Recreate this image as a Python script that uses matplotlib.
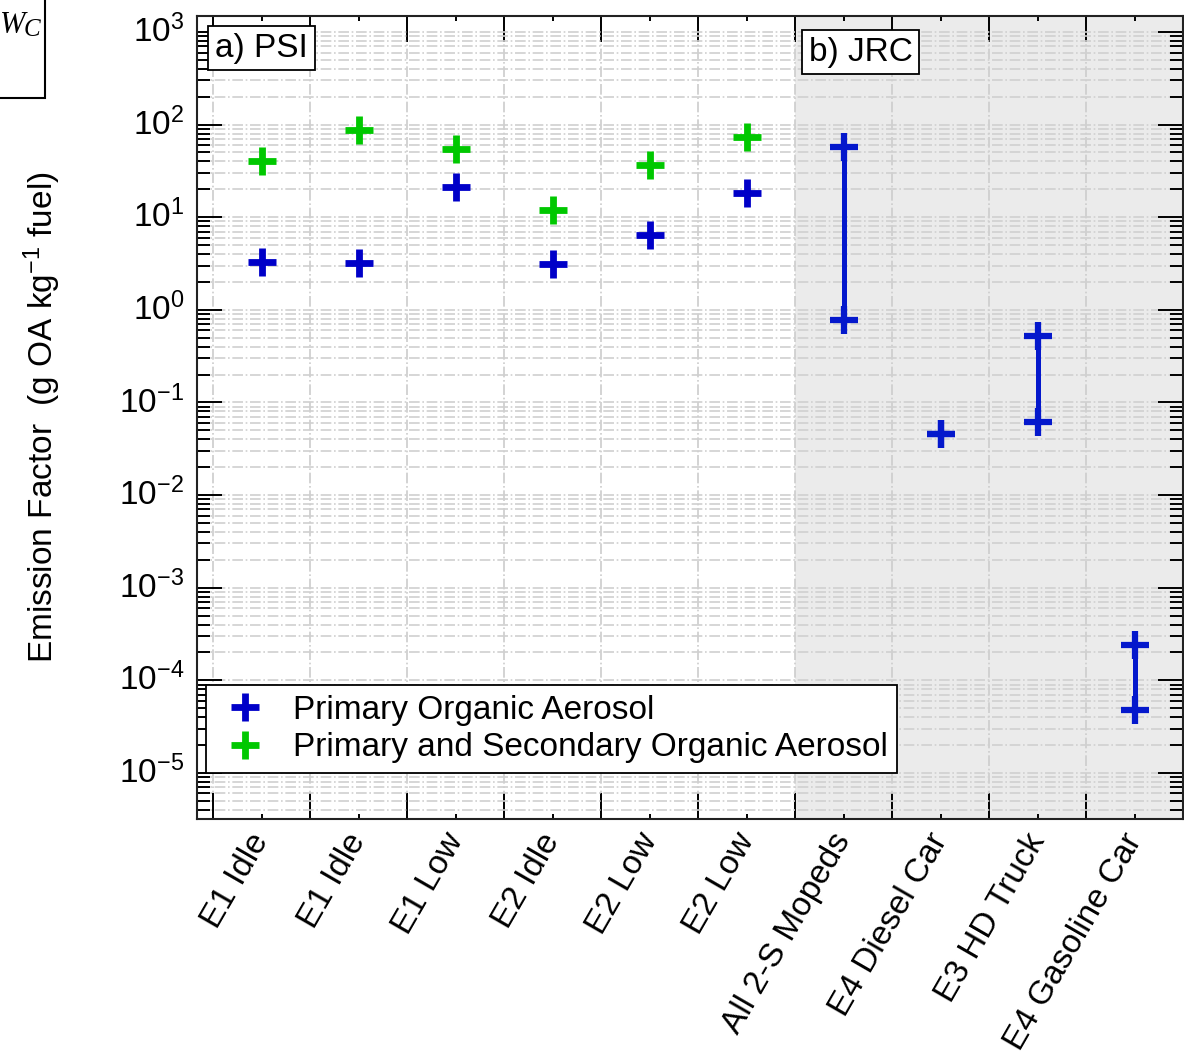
import numpy as np
import matplotlib
matplotlib.use("Agg")
import matplotlib.pyplot as plt
from matplotlib.ticker import LogLocator, FixedLocator, NullFormatter
from matplotlib.patches import Rectangle

plt.rcParams['font.family'] = ['Liberation Sans', 'DejaVu Sans']
plt.rcParams['mathtext.fontset'] = 'custom'
plt.rcParams['mathtext.rm'] = 'Liberation Sans'
plt.rcParams['mathtext.it'] = 'Liberation Sans:italic'
plt.rcParams['axes.unicode_minus'] = False

categories = ["E1 Idle", "E1 Idle", "E1 Low", "E2 Idle", "E2 Low", "E2 Low",
              "All 2-S Mopeds", "E4 Diesel Car", "E3 HD Truck", "E4 Gasoline Car"]

# a) PSI, one value per case
poa_psi = [3.3, 3.2, 21.0, 3.15, 6.4, 18.3]
posa_psi = [40, 87, 55, 11.9, 37, 73]

# b) JRC, range low / high
jrc_low = [0.78, 0.0457, 0.0616, 4.8e-5]
jrc_high = [57.8, 0.0457, 0.518, 2.43e-4]

blue = '#0000c8'
blue_jrc = '#0418cc'
green = '#00c800'

fig = plt.figure(figsize=(11.84, 10.54), dpi=100)
ax = fig.add_axes([0.1661, 0.2230, 0.8334, 0.7621])

n = len(categories)
x = np.arange(1, n + 1)
x_psi = x[:6]
x_jrc = x[6:]

ax.set_yscale('log')
ax.set_xlim(0.33, 10.5)
ax.set_ylim(3.18e-6, 1.5e3)

ax.axvspan(6.5, 10.5, color='#ebebeb', zorder=0, lw=0)

ax.plot(x_psi, poa_psi, '+', color=blue, ms=20, mew=4.9, ls='none',
        label='Primary Organic Aerosol', zorder=4)
ax.plot(x_psi, posa_psi, '+', color=green, ms=20, mew=4.9, ls='none',
        label='Primary and Secondary Organic Aerosol', zorder=4)

for xi, lo, hi in zip(x_jrc, jrc_low, jrc_high):
    ax.plot([xi, xi], [lo, hi], '-', color=blue_jrc, lw=3.6, zorder=4)
    ax.plot([xi, xi], [lo, hi], '+', color=blue_jrc, ms=20, mew=4.5, ls='none', zorder=4)

# ticks
ax.xaxis.set_major_locator(FixedLocator(np.arange(0.5, n + 1, 1.0)))
ax.xaxis.set_major_formatter(NullFormatter())
ax.set_xticks(x, categories, minor=True)
ax.tick_params(axis='x', which='major', direction='in', length=18.5, width=1.4,
               top=True, bottom=True)
ax.tick_params(axis='x', which='minor', direction='in', length=3.5, width=1.4,
               top=True, bottom=True, labelsize=24, pad=12)
for lab in ax.get_xticklabels(minor=True):
    lab.set_rotation(60)
    lab.set_rotation_mode('anchor')
    lab.set_ha('right')
    lab.set_va('center')

ax.yaxis.set_major_locator(LogLocator(base=10, numticks=20))
ax.yaxis.set_minor_locator(LogLocator(base=10, subs=np.arange(2, 10), numticks=20))
ax.yaxis.set_minor_formatter(NullFormatter())
ax.tick_params(axis='y', which='major', direction='in', length=18, width=1.4,
               left=True, right=True, labelsize=24, pad=9)
ax.tick_params(axis='y', which='minor', direction='in', length=9.5, width=1.4,
               left=True, right=True)
for lab in ax.get_yticklabels():
    lab.set_va('center')

for s in ax.spines.values():
    s.set_linewidth(1.5)
    s.set_color('#222222')

ax.grid(True, which='major', axis='x', color='#cccccc', ls='-.', lw=1.2)
ax.grid(True, which='both', axis='y', color='#d0d0d0', ls='-.', lw=1.2)
ax.set_axisbelow(True)

ax.set_ylabel('Emission Factor  (g OA kg$^{-1}$ fuel)', fontsize=24, labelpad=40)

box = dict(boxstyle='square,pad=0.2', facecolor='white', edgecolor='black', lw=1.3)
ax.text(0.52, 0.979, 'a) PSI', transform=ax.get_xaxis_transform(), fontsize=24,
        ha='left', va='top', bbox=box, zorder=6)
ax.text(6.64, 0.974, 'b) JRC', transform=ax.get_xaxis_transform(), fontsize=24,
        ha='left', va='top', bbox=box, zorder=6)

leg = ax.legend(loc='lower left', bbox_to_anchor=(0.0094, 0.057), borderaxespad=0,
                fontsize=24, fancybox=False, edgecolor='black', framealpha=1,
                borderpad=0.3, handlelength=1.76, handletextpad=0.54, labelspacing=0.2)
leg.get_frame().set_linewidth(1.3)

# cropped corner of the neighbouring panel
fig.patches.append(Rectangle((-0.01, 1 - 98 / 1054), 0.01 + 45 / 1184, 0.02 + 98 / 1054,
                             transform=fig.transFigure, fill=False, ec='black', lw=1.5))
fig.text(0 / 1184, 1 - 33 / 1054, 'W', family='Liberation Serif', style='italic',
         fontsize=22, ha='left', va='baseline')
fig.text(24 / 1184, 1 - 36 / 1054, 'C', family='Liberation Serif', style='italic',
         fontsize=18, ha='left', va='baseline')

fig.savefig('out.png', dpi=100)
